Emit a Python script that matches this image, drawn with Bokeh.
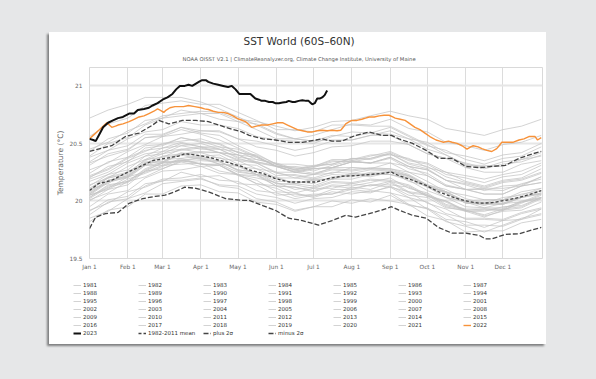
from bokeh.plotting import figure
from bokeh.models import FixedTicker, Legend, LegendItem, Title
from bokeh.layouts import column
from bokeh.embed import file_html
from bokeh.resources import INLINE

# ---------------- data ----------------
month_days = [1, 32, 60, 91, 121, 152, 182, 213, 244, 274, 305, 335]
month_labels = ["Jan 1", "Feb 1", "Mar 1", "Apr 1", "May 1", "Jun 1",
                "Jul 1", "Aug 1", "Sep 1", "Oct 1", "Nov 1", "Dec 1"]
y_ticks = [19.5, 20.0, 20.5, 21.0]
y_tick_labels = ["19.5", "20", "20.5", "21"]

days = [1, 16, 32, 46, 60, 75, 91, 106, 121, 136, 152, 167, 182, 197, 213,
        228, 244, 259, 274, 289, 305, 320, 335, 350, 366]
days1981 = [244, 259, 274, 289, 305, 320, 335, 350, 366]

y1981 = [20.07, 19.97, 19.93, 19.82, 19.78, 19.73, 19.79, 19.85, 19.89]
y1982 = [19.85, 19.91, 20.02, 20.07, 20.15, 20.17, 20.19, 20.14, 20.13, 20.06, 20.03, 19.98, 20.02, 20.03, 20.08, 20.07, 20.13, 20.05, 20.03, 19.94, 19.92, 19.88, 19.93, 19.95, 20.03]
y1983 = [20.09, 20.20, 20.23, 20.34, 20.34, 20.40, 20.36, 20.35, 20.26, 20.23, 20.13, 20.12, 20.08, 20.13, 20.11, 20.14, 20.12, 20.08, 19.98, 19.93, 19.84, 19.84, 19.83, 19.89, 19.93]
y1984 = [19.92, 19.98, 20.08, 20.12, 20.18, 20.18, 20.20, 20.13, 20.11, 20.02, 19.99, 19.92, 19.95, 20.00, 19.98, 20.02, 20.00, 19.97, 19.87, 19.83, 19.73, 19.74, 19.74, 19.81, 19.84]
y1985 = [19.82, 19.92, 19.95, 20.06, 20.06, 20.13, 20.14, 20.08, 20.07, 19.99, 19.97, 19.91, 19.95, 19.95, 20.01, 19.99, 20.05, 19.96, 19.94, 19.84, 19.82, 19.77, 19.83, 19.84, 19.93]
y1986 = [19.91, 20.01, 20.04, 20.15, 20.17, 20.25, 20.21, 20.22, 20.15, 20.14, 20.05, 20.06, 20.04, 20.10, 20.10, 20.14, 20.14, 20.12, 20.04, 20.00, 19.92, 19.93, 19.93, 20.00, 20.03]
y1987 = [20.05, 20.16, 20.21, 20.33, 20.34, 20.42, 20.39, 20.40, 20.32, 20.31, 20.22, 20.23, 20.20, 20.25, 20.24, 20.27, 20.26, 20.22, 20.13, 20.08, 19.99, 19.99, 19.98, 20.04, 20.06]
y1988 = [20.07, 20.18, 20.21, 20.31, 20.31, 20.37, 20.32, 20.31, 20.22, 20.18, 20.08, 20.07, 20.03, 20.08, 20.06, 20.09, 20.07, 20.03, 19.93, 19.88, 19.79, 19.79, 19.78, 19.84, 19.88]
y1989 = [19.88, 19.99, 20.02, 20.13, 20.19, 20.20, 20.23, 20.18, 20.17, 20.09, 20.07, 20.02, 20.05, 20.06, 20.12, 20.10, 20.16, 20.07, 20.05, 19.95, 19.91, 19.86, 19.92, 19.94, 20.02]
y1990 = [20.03, 20.14, 20.17, 20.28, 20.34, 20.35, 20.38, 20.32, 20.31, 20.23, 20.21, 20.15, 20.19, 20.19, 20.23, 20.21, 20.25, 20.21, 20.12, 20.07, 19.98, 19.98, 19.97, 20.03, 20.07]
y1991 = [20.06, 20.17, 20.20, 20.31, 20.33, 20.41, 20.37, 20.38, 20.30, 20.28, 20.20, 20.20, 20.18, 20.19, 20.24, 20.22, 20.26, 20.17, 20.13, 20.03, 19.99, 19.94, 19.98, 19.99, 20.06]
y1992 = [20.05, 20.11, 20.21, 20.25, 20.31, 20.32, 20.33, 20.26, 20.23, 20.15, 20.11, 20.04, 20.06, 20.06, 20.10, 20.08, 20.12, 20.03, 19.99, 19.89, 19.85, 19.85, 19.84, 19.90, 19.94]
y1993 = [19.95, 20.06, 20.09, 20.20, 20.26, 20.27, 20.30, 20.24, 20.23, 20.15, 20.13, 20.07, 20.11, 20.11, 20.15, 20.13, 20.17, 20.08, 20.06, 19.96, 19.92, 19.87, 19.91, 19.92, 19.99]
y1994 = [20.00, 20.10, 20.14, 20.26, 20.28, 20.35, 20.32, 20.32, 20.25, 20.23, 20.15, 20.15, 20.13, 20.19, 20.19, 20.23, 20.23, 20.20, 20.12, 20.08, 20.00, 20.01, 20.01, 20.06, 20.09]
y1995 = [20.10, 20.15, 20.26, 20.31, 20.36, 20.37, 20.39, 20.34, 20.27, 20.25, 20.15, 20.14, 20.11, 20.16, 20.15, 20.18, 20.17, 20.13, 20.04, 19.99, 19.91, 19.92, 19.92, 19.99, 20.02]
y1996 = [20.01, 20.07, 20.17, 20.21, 20.28, 20.34, 20.30, 20.31, 20.23, 20.22, 20.13, 20.12, 20.09, 20.14, 20.13, 20.16, 20.20, 20.11, 20.07, 19.97, 19.93, 19.93, 19.92, 19.98, 20.05]
y1997 = [20.06, 20.17, 20.22, 20.33, 20.39, 20.41, 20.43, 20.42, 20.36, 20.34, 20.30, 20.26, 20.29, 20.34, 20.35, 20.39, 20.43, 20.36, 20.33, 20.25, 20.22, 20.19, 20.23, 20.26, 20.33]
y1998 = [20.34, 20.44, 20.48, 20.58, 20.58, 20.64, 20.59, 20.57, 20.48, 20.41, 20.32, 20.27, 20.24, 20.28, 20.27, 20.29, 20.28, 20.23, 20.14, 20.08, 19.99, 19.98, 19.98, 20.03, 20.06]
y1999 = [20.05, 20.10, 20.19, 20.24, 20.30, 20.36, 20.32, 20.31, 20.23, 20.20, 20.16, 20.10, 20.12, 20.17, 20.16, 20.19, 20.18, 20.14, 20.05, 20.00, 19.91, 19.91, 19.95, 19.96, 20.03]
y2000 = [20.02, 20.12, 20.16, 20.26, 20.33, 20.35, 20.37, 20.32, 20.30, 20.23, 20.20, 20.15, 20.18, 20.19, 20.24, 20.23, 20.23, 20.20, 20.12, 20.03, 20.00, 19.96, 20.01, 20.03, 20.09]
y2001 = [20.10, 20.20, 20.24, 20.36, 20.38, 20.45, 20.42, 20.42, 20.35, 20.33, 20.25, 20.25, 20.23, 20.29, 20.29, 20.28, 20.33, 20.25, 20.22, 20.13, 20.10, 20.06, 20.06, 20.13, 20.16]
y2002 = [20.17, 20.23, 20.33, 20.39, 20.46, 20.48, 20.50, 20.45, 20.43, 20.36, 20.33, 20.28, 20.31, 20.32, 20.37, 20.36, 20.41, 20.33, 20.30, 20.21, 20.16, 20.12, 20.17, 20.19, 20.25]
y2003 = [20.24, 20.34, 20.38, 20.48, 20.49, 20.55, 20.51, 20.50, 20.42, 20.39, 20.30, 20.29, 20.26, 20.31, 20.35, 20.33, 20.37, 20.28, 20.24, 20.14, 20.10, 20.10, 20.09, 20.15, 20.19]
y2004 = [20.19, 20.25, 20.35, 20.41, 20.43, 20.50, 20.47, 20.47, 20.40, 20.38, 20.30, 20.25, 20.28, 20.29, 20.34, 20.33, 20.38, 20.30, 20.27, 20.18, 20.10, 20.11, 20.11, 20.13, 20.21]
y2005 = [20.20, 20.30, 20.34, 20.46, 20.48, 20.55, 20.52, 20.47, 20.45, 20.38, 20.30, 20.30, 20.28, 20.29, 20.34, 20.33, 20.33, 20.30, 20.22, 20.13, 20.10, 20.06, 20.06, 20.13, 20.16]
y2006 = [20.14, 20.20, 20.30, 20.36, 20.43, 20.45, 20.47, 20.42, 20.40, 20.33, 20.30, 20.25, 20.28, 20.29, 20.34, 20.33, 20.38, 20.30, 20.27, 20.18, 20.15, 20.11, 20.16, 20.18, 20.24]
y2007 = [20.22, 20.28, 20.38, 20.44, 20.46, 20.51, 20.47, 20.45, 20.37, 20.33, 20.24, 20.22, 20.19, 20.23, 20.22, 20.24, 20.23, 20.18, 20.09, 20.03, 19.95, 19.94, 19.94, 19.99, 20.03]
y2008 = [20.03, 20.13, 20.17, 20.27, 20.33, 20.34, 20.35, 20.34, 20.27, 20.25, 20.17, 20.17, 20.15, 20.21, 20.21, 20.25, 20.25, 20.22, 20.14, 20.10, 20.02, 19.98, 20.03, 20.05, 20.11]
y2009 = [20.11, 20.21, 20.25, 20.35, 20.41, 20.44, 20.46, 20.42, 20.40, 20.34, 20.31, 20.27, 20.30, 20.32, 20.37, 20.37, 20.42, 20.35, 20.32, 20.23, 20.20, 20.16, 20.21, 20.23, 20.31]
y2010 = [20.31, 20.41, 20.45, 20.55, 20.56, 20.62, 20.58, 20.53, 20.46, 20.39, 20.30, 20.25, 20.23, 20.27, 20.26, 20.28, 20.27, 20.22, 20.13, 20.07, 19.98, 19.97, 19.97, 20.03, 20.07]
y2011 = [20.08, 20.18, 20.22, 20.32, 20.38, 20.40, 20.42, 20.37, 20.35, 20.28, 20.25, 20.20, 20.23, 20.24, 20.29, 20.28, 20.28, 20.25, 20.17, 20.08, 20.05, 20.01, 20.01, 20.08, 20.11]
y2012 = [20.13, 20.23, 20.27, 20.39, 20.41, 20.48, 20.45, 20.45, 20.38, 20.36, 20.32, 20.27, 20.30, 20.35, 20.34, 20.37, 20.41, 20.32, 20.28, 20.18, 20.14, 20.09, 20.13, 20.14, 20.21]
y2013 = [20.21, 20.27, 20.37, 20.43, 20.50, 20.52, 20.54, 20.49, 20.42, 20.40, 20.32, 20.32, 20.30, 20.36, 20.36, 20.40, 20.40, 20.37, 20.29, 20.25, 20.17, 20.13, 20.18, 20.20, 20.28]
y2014 = [20.27, 20.33, 20.43, 20.49, 20.56, 20.58, 20.61, 20.60, 20.54, 20.52, 20.48, 20.44, 20.47, 20.52, 20.53, 20.57, 20.61, 20.54, 20.51, 20.42, 20.39, 20.35, 20.40, 20.42, 20.50]
y2015 = [20.45, 20.51, 20.61, 20.67, 20.74, 20.76, 20.78, 20.77, 20.71, 20.69, 20.65, 20.61, 20.64, 20.69, 20.70, 20.74, 20.78, 20.74, 20.71, 20.63, 20.60, 20.57, 20.62, 20.65, 20.71]
y2016 = [20.72, 20.79, 20.84, 20.90, 20.90, 20.90, 20.86, 20.80, 20.73, 20.66, 20.58, 20.54, 20.52, 20.57, 20.56, 20.59, 20.58, 20.54, 20.45, 20.40, 20.31, 20.31, 20.30, 20.36, 20.39]
y2017 = [20.39, 20.50, 20.55, 20.66, 20.72, 20.74, 20.76, 20.71, 20.69, 20.62, 20.54, 20.54, 20.52, 20.53, 20.53, 20.57, 20.57, 20.49, 20.41, 20.37, 20.29, 20.25, 20.25, 20.32, 20.35]
y2018 = [20.33, 20.39, 20.44, 20.55, 20.57, 20.64, 20.61, 20.61, 20.54, 20.47, 20.44, 20.39, 20.42, 20.47, 20.48, 20.52, 20.52, 20.49, 20.41, 20.37, 20.33, 20.29, 20.34, 20.36, 20.42]
y2019 = [20.43, 20.54, 20.59, 20.70, 20.72, 20.79, 20.76, 20.76, 20.69, 20.67, 20.59, 20.54, 20.57, 20.62, 20.67, 20.66, 20.71, 20.63, 20.60, 20.51, 20.48, 20.44, 20.49, 20.51, 20.57]
y2020 = [20.56, 20.67, 20.72, 20.83, 20.85, 20.87, 20.84, 20.84, 20.77, 20.70, 20.62, 20.62, 20.60, 20.66, 20.66, 20.65, 20.65, 20.57, 20.49, 20.40, 20.32, 20.28, 20.32, 20.34, 20.40]
y2021 = [20.38, 20.44, 20.54, 20.60, 20.62, 20.69, 20.66, 20.66, 20.63, 20.56, 20.53, 20.52, 20.50, 20.56, 20.60, 20.59, 20.64, 20.56, 20.48, 20.44, 20.36, 20.32, 20.37, 20.39, 20.47]

d2022 = [1, 4, 7, 10, 13, 15, 17, 19, 22, 24, 28, 33, 37, 41, 45, 49, 53, 56, 58, 61, 63, 66, 70, 73, 77, 81, 86, 91, 94, 97, 101, 105, 109, 113, 117, 120, 122, 127, 132, 136, 140, 145, 149, 153, 157, 161, 165, 169, 173, 177, 181, 185, 189, 193, 197, 201, 204, 206, 208, 211, 213, 217, 221, 224, 227, 231, 235, 239, 243, 246, 248, 252, 256, 260, 264, 268, 272, 276, 281, 284, 287, 291, 294, 298, 302, 306, 309, 311, 315, 318, 322, 326, 330, 332, 334, 338, 343, 348, 352, 356, 361, 363, 366]
v2022 = [20.54, 20.57, 20.60, 20.63, 20.66, 20.68, 20.66, 20.64, 20.65, 20.66, 20.67, 20.69, 20.71, 20.73, 20.74, 20.76, 20.78, 20.80, 20.79, 20.77, 20.79, 20.81, 20.82, 20.82, 20.82, 20.83, 20.82, 20.81, 20.80, 20.795, 20.78, 20.77, 20.77, 20.76, 20.74, 20.72, 20.71, 20.69, 20.64, 20.65, 20.66, 20.66, 20.67, 20.68, 20.68, 20.66, 20.64, 20.62, 20.61, 20.60, 20.60, 20.61, 20.615, 20.61, 20.615, 20.61, 20.615, 20.64, 20.67, 20.69, 20.70, 20.70, 20.71, 20.72, 20.73, 20.73, 20.74, 20.745, 20.745, 20.73, 20.72, 20.71, 20.70, 20.67, 20.64, 20.62, 20.59, 20.56, 20.53, 20.52, 20.51, 20.52, 20.51, 20.50, 20.48, 20.45, 20.47, 20.48, 20.47, 20.455, 20.44, 20.43, 20.455, 20.48, 20.51, 20.51, 20.51, 20.53, 20.54, 20.56, 20.56, 20.53, 20.55]

d2023 = [1, 4, 6, 9, 12, 16, 20, 24, 28, 33, 37, 40, 45, 49, 52, 56, 60, 64, 68, 71, 74, 78, 81, 84, 87, 90, 92, 95, 97, 101, 105, 109, 113, 116, 119, 122, 124, 128, 131, 133, 135, 138, 140, 143, 146, 149, 151, 154, 157, 160, 162, 165, 167, 170, 173, 176, 178, 180, 181, 183, 185, 187, 189, 191, 193]
v2023 = [20.54, 20.53, 20.52, 20.58, 20.64, 20.68, 20.70, 20.72, 20.73, 20.76, 20.76, 20.79, 20.80, 20.81, 20.83, 20.85, 20.88, 20.90, 20.93, 20.97, 21.00, 21.00, 21.01, 21.00, 21.02, 21.04, 21.05, 21.05, 21.035, 21.02, 21.01, 21.00, 20.99, 21.00, 20.97, 20.93, 20.93, 20.93, 20.93, 20.91, 20.89, 20.88, 20.87, 20.87, 20.86, 20.86, 20.85, 20.85, 20.855, 20.86, 20.87, 20.86, 20.86, 20.87, 20.875, 20.87, 20.87, 20.85, 20.84, 20.85, 20.89, 20.89, 20.90, 20.92, 20.96]

d_mean = [1, 8, 19, 30, 41, 52, 62, 73, 78, 87, 97, 111, 124, 130, 141, 151, 162, 173, 184, 194, 205, 216, 227, 237, 245, 251, 262, 273, 283, 294, 305, 316, 326, 337, 348, 359, 366]
v_mean = [20.09, 20.15, 20.18, 20.24, 20.295, 20.35, 20.37, 20.39, 20.41, 20.40, 20.38, 20.34, 20.30, 20.27, 20.24, 20.195, 20.165, 20.165, 20.165, 20.195, 20.215, 20.22, 20.23, 20.24, 20.25, 20.22, 20.18, 20.135, 20.08, 20.035, 20.00, 19.98, 19.985, 20.005, 20.03, 20.065, 20.09]

d_plus = [1, 8, 19, 30, 41, 52, 57, 65, 76, 87, 97, 111, 124, 130, 141, 151, 162, 173, 184, 189, 197, 205, 216, 227, 237, 245, 251, 262, 273, 283, 294, 305, 316, 326, 337, 348, 359, 366]
v_plus = [20.43, 20.45, 20.48, 20.56, 20.59, 20.66, 20.70, 20.67, 20.70, 20.70, 20.69, 20.64, 20.60, 20.57, 20.54, 20.53, 20.51, 20.51, 20.53, 20.54, 20.52, 20.52, 20.57, 20.60, 20.57, 20.57, 20.54, 20.50, 20.44, 20.37, 20.37, 20.30, 20.29, 20.30, 20.31, 20.37, 20.41, 20.43]

d_minus = [1, 6, 14, 24, 33, 44, 54, 62, 70, 78, 87, 97, 111, 124, 130, 141, 151, 162, 173, 186, 197, 208, 216, 227, 237, 245, 251, 262, 273, 283, 294, 305, 316, 321, 326, 337, 348, 359, 366]
v_minus = [19.76, 19.86, 19.89, 19.90, 19.98, 20.02, 20.04, 20.05, 20.08, 20.12, 20.11, 20.08, 20.02, 20.005, 20.005, 19.96, 19.92, 19.85, 19.83, 19.79, 19.83, 19.875, 19.86, 19.89, 19.92, 19.95, 19.92, 19.875, 19.85, 19.77, 19.72, 19.72, 19.70, 19.67, 19.67, 19.71, 19.715, 19.75, 19.77]

gray_years = [
    ("1981", days1981, y1981), ("1982", days, y1982), ("1983", days, y1983),
    ("1984", days, y1984), ("1985", days, y1985), ("1986", days, y1986),
    ("1987", days, y1987), ("1988", days, y1988), ("1989", days, y1989),
    ("1990", days, y1990), ("1991", days, y1991), ("1992", days, y1992),
    ("1993", days, y1993), ("1994", days, y1994), ("1995", days, y1995),
    ("1996", days, y1996), ("1997", days, y1997), ("1998", days, y1998),
    ("1999", days, y1999), ("2000", days, y2000), ("2001", days, y2001),
    ("2002", days, y2002), ("2003", days, y2003), ("2004", days, y2004),
    ("2005", days, y2005), ("2006", days, y2006), ("2007", days, y2007),
    ("2008", days, y2008), ("2009", days, y2009), ("2010", days, y2010),
    ("2011", days, y2011), ("2012", days, y2012), ("2013", days, y2013),
    ("2014", days, y2014), ("2015", days, y2015), ("2016", days, y2016),
    ("2017", days, y2017), ("2018", days, y2018), ("2019", days, y2019),
    ("2020", days, y2020), ("2021", days, y2021),
]

title_text = "SST World (60S\u201360N)"
subtitle_text = ("NOAA OISST V2.1 | ClimateReanalyzer.org, Climate Change Institute, "
                 "University of Maine")

FONT = "DejaVu Sans"
GRAY = dict(line_color="#c4c4c4", line_width=1, line_alpha=0.75)
STY_2022 = dict(line_color="#f7923a", line_width=1.4)
STY_2023 = dict(line_color="#111111", line_width=2)
STY_MEAN = dict(line_color="#444444", line_width=1.3, line_dash="3 2")
STY_SIG = dict(line_color="#444444", line_width=1.3, line_dash="5 2")

# ---------------- main chart ----------------
p = figure(width=497, height=245, x_range=(1, 367), y_range=(19.5, 21.16),
           output_backend="svg", toolbar_location=None, title=None,
           min_border_left=40, min_border_right=4, min_border_top=35,
           min_border_bottom=19,
           background_fill_color="white", border_fill_color="white",
           outline_line_color="#d9d9d9", outline_line_width=1)

p.add_layout(Title(text=subtitle_text, align="left", offset=93,
                   text_font=FONT, text_font_size="5.25px", text_font_style="normal",
                   text_color="#555555", standoff=12), "above")
p.add_layout(Title(text=title_text, align="left", offset=154,
                   text_font=FONT, text_font_size="10.5px", text_font_style="normal",
                   text_color="#333333", standoff=1), "above")

p.xaxis.ticker = FixedTicker(ticks=month_days)
p.xaxis.major_label_overrides = {d: l for d, l in zip(month_days, month_labels)}
p.xaxis.major_label_text_align = "left"
p.yaxis.ticker = FixedTicker(ticks=y_ticks)
p.yaxis.major_label_overrides = {t: l for t, l in zip(y_ticks, y_tick_labels)}
for ax in (p.xaxis[0], p.yaxis[0]):
    ax.axis_line_color = None
    ax.major_tick_line_color = None
    ax.minor_tick_line_color = None
    ax.major_tick_out = 0
    ax.major_tick_in = 0
    ax.minor_tick_out = 0
    ax.major_label_text_font = FONT
    ax.major_label_text_font_size = "5.8px"
    ax.major_label_text_color = "#666666"
p.xaxis.major_label_standoff = 5
p.yaxis.major_label_standoff = 7
p.yaxis.axis_label = "Temperature (\u00b0C)"
p.yaxis.axis_label_text_font = FONT
p.yaxis.axis_label_text_font_size = "7.5px"
p.yaxis.axis_label_text_font_style = "normal"
p.yaxis.axis_label_text_color = "#666666"
p.yaxis.axis_label_standoff = 2

p.xgrid.ticker = FixedTicker(ticks=month_days)
p.xgrid.grid_line_color = "#dcdcdc"
p.xgrid.grid_line_width = 1
p.ygrid.ticker = FixedTicker(ticks=y_ticks)
p.ygrid.grid_line_color = "#e6e6e6"
p.ygrid.grid_line_width = 2

for label, dd, vv in gray_years:
    p.line(dd, vv, **GRAY)
p.line(d_plus, v_plus, **STY_SIG)
p.line(d_minus, v_minus, **STY_SIG)
p.line(d_mean, v_mean, **STY_MEAN)
p.line(d2022, v2022, **STY_2022)
p.line(d2023, v2023, **STY_2023)

# ---------------- legend panel ----------------
lg = figure(width=497, height=67, x_range=(0, 1), y_range=(0, 1),
            output_backend="svg", toolbar_location=None, title=None,
            x_axis_location=None, y_axis_location=None,
            min_border=0, outline_line_color=None,
            background_fill_color="white", border_fill_color="white")
lg.grid.visible = False

# keep the legend panel's frame independent of the chart's frame
for fig in (p, lg):
    if "frame_align" in fig.properties():
        fig.frame_align = False

# legend swatches: renderers that sit outside the visible range
off_x = [-5, -4]
off_y = [-5, -4]
items = []
for label, dd, vv in gray_years:
    items.append(LegendItem(label=label, renderers=[lg.line(off_x, off_y, **GRAY)]))
items.append(LegendItem(label="2022", renderers=[lg.line(off_x, off_y, **STY_2022)]))
items.append(LegendItem(label="2023", renderers=[lg.line(off_x, off_y, **STY_2023)]))
items.append(LegendItem(label="1982-2011 mean", renderers=[lg.line(off_x, off_y, **STY_MEAN)]))
items.append(LegendItem(label="plus 2\u03c3", renderers=[lg.line(off_x, off_y, **STY_SIG)]))
items.append(LegendItem(label="minus 2\u03c3", renderers=[lg.line(off_x, off_y, **STY_SIG)]))

legend = Legend(items=items, orientation="horizontal", ncols=7,
                location=(24, 7),
                label_text_font=FONT, label_text_font_size="5.5px",
                label_text_color="#333333",
                label_height=8, glyph_height=8, glyph_width=8,
                label_standoff=2, label_width=55, spacing=0,
                padding=0, margin=0,
                border_line_alpha=0, background_fill_alpha=0)
lg.add_layout(legend)

card = column(p, lg, margin=(32, 0, 0, 49),
              styles={"background-color": "white",
                      "box-shadow": "-2px 2px 2px rgba(0,0,0,0.45)"})
root = column(card, width=596, height=379,
              styles={"background-color": "#e6e7e8"})

open("out.html", "w").write(file_html(root, INLINE))
